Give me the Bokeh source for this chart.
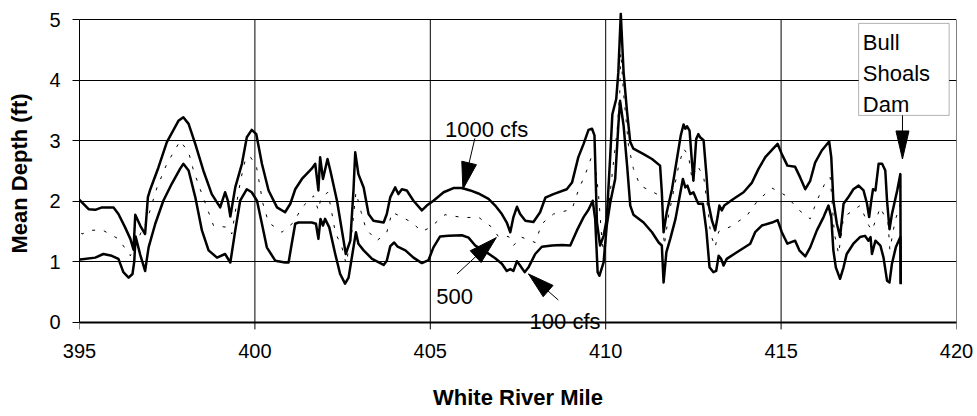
import math
from bokeh.plotting import figure
from bokeh.models import Range1d, FixedTicker, Label, Arrow, BoxAnnotation
from bokeh.embed import file_html
from bokeh.resources import INLINE

# ---------------- data ----------------
mile_1000 = [394.82, 395.02, 395.26, 395.45, 395.64, 395.97, 396.11, 396.30, 396.45, 396.54,
             396.59, 396.73, 396.87, 396.95, 397.02, 397.25, 397.49, 397.82, 397.96, 398.11,
             398.30, 398.53, 398.77, 399.01, 399.15, 399.23, 399.30, 399.44, 399.63, 399.77,
             399.91, 400.04, 400.20, 400.39, 400.63, 400.86, 401.01, 401.15, 401.34, 401.62,
             401.72, 401.81, 401.86, 401.94, 402.07, 402.15, 402.34, 402.48, 402.59, 402.72,
             402.81, 402.86, 402.95, 403.10, 403.24, 403.38, 403.67, 403.76, 403.86, 404.00,
             404.09, 404.19, 404.33, 404.52, 404.76, 404.90, 405.09, 405.38, 405.66, 405.90,
             406.14, 406.37, 406.66, 406.85, 407.04, 407.18, 407.28, 407.37, 407.47, 407.56,
             407.71, 407.94, 408.13, 408.28, 408.51, 408.89, 409.04, 409.22, 409.37, 409.51,
             409.61, 409.68, 409.75, 409.84, 409.94, 410.03, 410.13, 410.19, 410.30, 410.36,
             410.43, 410.51, 410.61, 410.70, 410.79, 411.08, 411.32, 411.55, 411.60, 411.65,
             411.74, 411.89, 412.03, 412.14, 412.22, 412.27, 412.32, 412.39, 412.46, 412.50,
             412.58, 412.64, 412.69, 412.79, 412.87, 412.93, 413.03, 413.12, 413.19, 413.24,
             413.31, 413.38, 413.64, 413.93, 414.17, 414.36, 414.55, 414.74, 414.90, 415.02,
             415.18, 415.40, 415.54, 415.69, 415.83, 415.97, 416.16, 416.37, 416.43, 416.49,
             416.59, 416.68, 416.78, 416.92, 417.06, 417.21, 417.35, 417.45, 417.51, 417.57,
             417.62, 417.69, 417.78, 417.88, 417.97, 418.02, 418.09, 418.16, 418.31, 418.40,
             418.41]
depth_1000 = [2.13, 2.01, 1.87, 1.86, 1.90, 1.90, 1.79, 1.57, 1.38, 1.20,
              1.78, 1.60, 1.46, 2.07, 2.20, 2.56, 2.98, 3.33, 3.39, 3.28,
              2.95, 2.51, 2.12, 1.90, 2.15, 2.01, 1.75, 2.23, 2.62, 3.06,
              3.18, 3.11, 2.62, 2.18, 1.90, 1.82, 1.96, 2.20, 2.37, 2.54,
              2.62, 2.18, 2.73, 2.37, 2.70, 2.51, 2.01, 1.52, 1.13, 1.35,
              2.18, 2.81, 2.45, 2.23, 1.79, 1.68, 1.65, 1.79, 2.07, 2.23,
              2.12, 2.20, 2.18, 2.01, 1.85, 1.93, 2.01, 2.15, 2.22, 2.22,
              2.18, 2.13, 2.04, 1.93, 1.79, 1.65, 1.49, 1.74, 1.91, 1.79,
              1.68, 1.66, 1.82, 2.06, 2.12, 2.20, 2.31, 2.73, 2.95, 3.18,
              3.20, 3.09, 1.65, 1.27, 1.43, 1.71, 2.76, 3.44, 3.69, 4.13,
              5.10, 4.13, 3.47, 2.98, 2.87, 2.78, 2.70, 2.59, 2.15, 1.49,
              1.82, 2.20, 2.70, 3.09, 3.27, 3.20, 3.24, 3.17, 2.64, 2.34,
              3.03, 3.11, 3.06, 3.01, 2.45, 1.96, 1.68, 1.52, 1.74, 1.93,
              1.85, 1.93, 2.04, 2.15, 2.31, 2.54, 2.73, 2.85, 2.95, 2.78,
              2.59, 2.57, 2.40, 2.20, 2.34, 2.64, 2.84, 2.99, 2.73, 2.01,
              1.63, 1.41, 1.96, 2.07, 2.20, 2.26, 2.18, 1.96, 1.74, 2.01,
              2.20, 2.18, 2.62, 2.62, 2.51, 2.01, 1.54, 1.79, 2.18, 2.45,
              0.64]

mile_500 = [394.83, 394.93, 395.07, 395.31, 395.64, 396.11, 396.45, 396.60, 396.92, 397.21,
            397.49, 397.87, 398.11, 398.25, 398.44, 398.63, 398.82, 399.09, 399.25, 399.34,
            399.50, 399.60, 399.72, 399.85, 400.04, 400.23, 400.39, 400.77, 401.10, 401.34,
            401.67, 401.81, 401.88, 402.08, 402.19, 402.29, 402.48, 402.60, 402.77, 402.88,
            403.03, 403.17, 403.48, 403.76, 403.91, 404.19, 404.48, 404.76, 405.00, 405.42,
            405.95, 406.37, 406.76, 406.95, 407.23, 407.37, 407.59, 407.99, 408.18, 408.51,
            409.04, 409.22, 409.44, 409.61, 409.68, 409.79, 409.89, 409.94, 410.09, 410.19,
            410.33, 410.40, 410.43, 410.51, 410.65, 410.79, 410.98, 411.46, 411.60, 411.67,
            411.79, 411.93, 412.08, 412.22, 412.36, 412.46, 412.61, 412.79, 412.93, 412.99,
            413.12, 413.22, 413.55, 414.02, 414.33, 414.74, 415.15, 415.50, 415.83, 416.02,
            416.26, 416.40, 416.52, 416.64, 416.78, 417.25, 417.50, 417.59, 417.83, 418.05,
            418.10, 418.25, 418.40]
depth_500 = [1.85, 1.68, 1.46, 1.52, 1.53, 1.38, 1.10, 1.30, 1.68, 2.23,
             2.62, 3.00, 2.81, 2.51, 2.20, 1.90, 1.60, 1.58, 1.57, 1.46,
             2.04, 2.37, 2.67, 2.75, 2.59, 1.96, 1.65, 1.49, 1.65, 1.90,
             2.09, 1.85, 2.05, 2.15, 1.82, 1.49, 1.24, 0.97, 1.52, 2.15,
             1.82, 1.54, 1.35, 1.49, 1.82, 1.74, 1.65, 1.50, 1.57, 1.78,
             1.73, 1.74, 1.57, 1.41, 1.42, 1.27, 1.41, 1.32, 1.63, 1.79,
             1.87, 2.18, 2.48, 2.76, 2.70, 2.15, 1.38, 1.16, 1.93, 2.48,
             3.20, 3.80, 4.46, 3.78, 2.92, 2.54, 2.26, 2.12, 1.98, 1.27,
             1.76, 2.15, 2.59, 2.87, 2.76, 2.37, 2.59, 2.42, 1.79, 1.46,
             1.24, 1.50, 1.58, 1.76, 2.01, 2.22, 2.09, 1.86, 1.71, 2.01,
             2.31, 2.40, 1.46, 1.13, 1.74, 1.93, 1.60, 1.52, 1.90, 1.63,
             1.20, 1.68, 1.96]

mile_100 = [394.81, 394.94, 395.02, 395.45, 395.68, 395.92, 396.11, 396.25, 396.40, 396.51,
            396.56, 396.60, 396.73, 396.87, 396.97, 397.16, 397.39, 397.63, 397.87, 397.96,
            398.11, 398.30, 398.49, 398.68, 398.92, 399.15, 399.30, 399.44, 399.58, 399.77,
            399.91, 400.06, 400.20, 400.34, 400.58, 400.86, 400.96, 401.05, 401.15, 401.24,
            401.62, 401.74, 401.81, 401.87, 401.94, 402.00, 402.12, 402.29, 402.43, 402.57,
            402.67, 402.81, 402.88, 402.95, 403.10, 403.34, 403.67, 403.76, 403.86, 403.97,
            404.07, 404.29, 404.52, 404.76, 404.95, 405.09, 405.28, 405.52, 405.90, 406.09,
            406.28, 406.52, 406.85, 407.04, 407.18, 407.28, 407.37, 407.47, 407.56, 407.69,
            407.80, 407.99, 408.18, 408.47, 408.75, 408.99, 409.18, 409.37, 409.51, 409.63,
            409.70, 409.77, 409.82, 409.94, 410.03, 410.13, 410.27, 410.36, 410.41, 410.51,
            410.61, 410.70, 410.79, 411.08, 411.32, 411.51, 411.60, 411.65, 411.73, 411.84,
            411.99, 412.13, 412.20, 412.27, 412.33, 412.41, 412.50, 412.58, 412.64, 412.77,
            412.87, 412.96, 413.07, 413.15, 413.22, 413.29, 413.36, 413.45, 413.74, 414.12,
            414.26, 414.45, 414.74, 414.90, 415.02, 415.18, 415.40, 415.52, 415.69, 415.83,
            416.02, 416.21, 416.35, 416.43, 416.49, 416.56, 416.68, 416.78, 416.87, 417.06,
            417.25, 417.39, 417.49, 417.55, 417.59, 417.69, 417.83, 417.92, 418.02, 418.09,
            418.16, 418.27, 418.40, 418.41]
depth_100 = [1.52, 1.07, 1.04, 1.07, 1.13, 1.10, 1.05, 0.83, 0.74, 0.80,
             1.00, 1.42, 1.12, 0.85, 1.24, 1.63, 2.01, 2.29, 2.54, 2.62,
             2.51, 2.07, 1.52, 1.19, 1.07, 1.13, 0.99, 1.52, 2.01, 2.20,
             2.15, 2.01, 1.63, 1.24, 1.02, 0.99, 0.99, 1.30, 1.63, 1.65,
             1.65, 1.63, 1.38, 1.71, 1.60, 1.71, 1.57, 1.13, 0.80, 0.64,
             0.74, 1.24, 1.49, 1.30, 1.19, 1.05, 0.95, 1.02, 1.26, 1.32,
             1.25, 1.19, 1.07, 0.98, 1.03, 1.24, 1.42, 1.43, 1.44, 1.40,
             1.27, 1.19, 1.06, 0.97, 0.85, 0.88, 0.85, 1.01, 0.94, 0.83,
             0.91, 1.13, 1.25, 1.27, 1.28, 1.27, 1.52, 1.74, 1.86, 2.01,
             1.71, 0.83, 0.77, 0.99, 1.60, 1.98, 2.37, 3.25, 3.66, 3.25,
             2.59, 1.93, 1.78, 1.65, 1.49, 1.32, 1.27, 0.66, 1.16, 1.38,
             1.71, 2.15, 2.37, 2.23, 2.26, 2.12, 2.15, 2.04, 1.96, 1.96,
             1.52, 0.91, 0.83, 0.85, 1.10, 1.05, 0.94, 1.05, 1.16, 1.30,
             1.49, 1.60, 1.65, 1.69, 1.49, 1.30, 1.35, 1.19, 1.09, 1.24,
             1.52, 1.74, 1.93, 1.74, 1.19, 0.91, 0.72, 0.91, 1.13, 1.30,
             1.41, 1.43, 1.35, 1.41, 1.13, 1.35, 1.27, 1.07, 0.69, 0.66,
             0.97, 1.24, 1.41, 0.63]

x_ticks = [395, 400, 405, 410, 415, 420]
y_ticks = [0, 1, 2, 3, 4, 5]
x_title = "White River Mile"
y_title = "Mean Depth (ft)"

# ---------------- figure ----------------
W, H = 977, 416
BL, BR, BT, BB = 79, 21, 12, 82
# headroom above 5 (the 410.4 peak) and a strip below 0 (the "100 cfs" text crosses the axis)
X0, X1, Y0, Y1 = 395, 420, -0.2, 5.12
SX = (W - BL - BR) / (X1 - X0)   # px per mile
SY = (H - BT - BB) / (Y1 - Y0)   # px per foot
TICK_PX = 7

FONT = "Liberation Sans"

p = figure(width=W, height=H, x_range=Range1d(X0, X1), y_range=Range1d(Y0, Y1),
           output_backend="svg", toolbar_location=None,
           min_border_left=BL, min_border_right=BR, min_border_top=BT, min_border_bottom=BB)
p.background_fill_color = "white"
p.border_fill_color = "white"
p.outline_line_color = None

p.xaxis.ticker = FixedTicker(ticks=x_ticks)
p.yaxis.ticker = FixedTicker(ticks=y_ticks)
p.yaxis.bounds = (y_ticks[0], y_ticks[-1])
p.ygrid.grid_line_color = "black"
p.ygrid.grid_line_width = 1
p.xgrid.visible = False
# vertical grid lines from the tick marks below the axis up to the top tick (5 ft)
n = len(x_ticks)
p.segment(x0=x_ticks, y0=[y_ticks[0] - TICK_PX / SY] * n, x1=x_ticks, y1=[y_ticks[-1]] * n,
          line_color="black", line_width=1)
# x-axis line at 0 ft
p.segment(x0=[x_ticks[0]], y0=[y_ticks[0]], x1=[x_ticks[-1]], y1=[y_ticks[0]],
          line_color="black", line_width=2)

for ax in (p.xaxis, p.yaxis):
    ax.major_label_text_font = FONT
    ax.major_label_text_font_size = "20px"
    ax.major_label_text_color = "black"
    ax.axis_label_text_font = FONT
    ax.axis_label_text_font_size = "22px"
    ax.axis_label_text_font_style = "bold"
    ax.axis_label_text_color = "black"
    ax.major_tick_in = 0
    ax.minor_tick_in = 0
    ax.minor_tick_out = 0
    ax.major_tick_line_color = "black"

p.yaxis.major_tick_out = TICK_PX
p.yaxis.axis_line_color = "black"
p.yaxis.axis_line_width = 1
p.yaxis.major_label_standoff = 12
p.yaxis.axis_label_standoff = 14

p.xaxis.major_tick_out = 0
p.xaxis.major_tick_line_color = None
p.xaxis.axis_line_color = None
p.xaxis.major_label_standoff = 9
p.xaxis.axis_label_standoff = 24

p.xaxis.axis_label = x_title
p.yaxis.axis_label = y_title

# ---------------- series ----------------
p.line(mile_500, depth_500, line_color="black", line_width=1, line_dash="3 9")
p.line(mile_1000, depth_1000, line_color="black", line_width=2.5, line_join="round")
p.line(mile_100, depth_100, line_color="black", line_width=2.5, line_join="round")

# ---------------- annotations ----------------
def arrow(tail, tip, head_len, head_w):
    p.add_layout(Arrow(end=None, x_start=tail[0], y_start=tail[1], x_end=tip[0], y_end=tip[1],
                       line_color="black", line_width=1))
    dx = (tip[0] - tail[0]) * SX
    dy = (tip[1] - tail[1]) * SY
    nn = math.hypot(dx, dy)
    ux, uy = dx / nn, dy / nn
    bx, by = -ux * head_len, -uy * head_len
    px_, py_ = -uy * head_w / 2, ux * head_w / 2
    xs = [tip[0], tip[0] + (bx + px_) / SX, tip[0] + (bx - px_) / SX]
    ys = [tip[1], tip[1] + (by + py_) / SY, tip[1] + (by - py_) / SY]
    p.patch(xs, ys, fill_color="black", line_color="black", line_width=1)

def label(x, y, text):
    p.add_layout(Label(x=x, y=y, text=text, text_font=FONT, text_font_size="22px",
                       text_color="black", text_align="left", text_baseline="alphabetic",
                       y_offset=8))

label(405.42, 3.06, "1000 cfs")
arrow((406.27, 3.04), (405.93, 2.20), 27, 15)

label(405.17, 0.30, "500")
arrow((405.76, 0.80), (406.88, 1.40), 28, 16)

label(407.83, -0.11, "100 cfs")
arrow((408.65, 0.37), (407.80, 0.80), 26, 15)

p.add_layout(BoxAnnotation(left=417.21, right=419.79, bottom=3.42, top=4.94,
                           fill_color="white", fill_alpha=1.0,
                           line_color="black", line_width=1))
label(417.33, 4.50, "Bull")
label(417.33, 3.98, "Shoals")
label(417.33, 3.47, "Dam")
arrow((418.46, 3.42), (418.46, 2.70), 28, 13)

open("out.html", "w").write(file_html(p, INLINE))
